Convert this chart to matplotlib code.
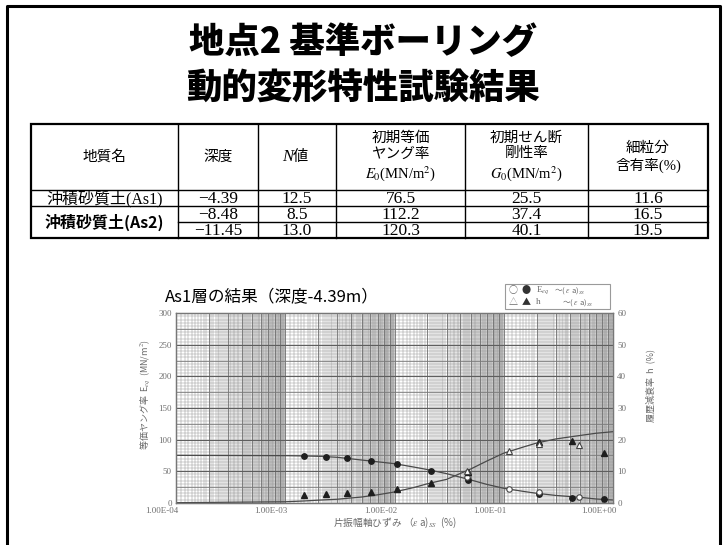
import numpy as np
import matplotlib
matplotlib.use("Agg")
import matplotlib.pyplot as plt
from matplotlib.patches import Rectangle
from matplotlib.ticker import NullLocator
from matplotlib.transforms import ScaledTranslation

plt.rcParams['font.family'] = ['Noto Sans CJK JP', 'DejaVu Sans']
plt.rcParams['mathtext.fontset'] = 'stix'

# ---- table values ----
geo_names = ["沖積砂質土(As1)", "沖積砂質土(As2)"]
depth = ["−4.39", "−8.48", "−11.45"]
n_value = [12.5, 8.5, 13.0]
e0 = [76.5, 112.2, 120.3]
g0 = [25.5, 37.4, 40.1]
fines = [11.6, 16.5, 19.5]
headers = ["地質名", "深度", None, "初期等価\nヤング率\n$E_0$(MN/m$^2$)",
           "初期せん断\n剛性率\n$G_0$(MN/m$^2$)", "細粒分\n含有率(%)"]

# ---- test results (As1, depth -4.39 m) ----
strain_fill = [1.49e-3, 2.36e-3, 3.65e-3, 6.05e-3, 1.06e-2, 2.14e-2, 4.74e-2, 0.21, 0.424, 0.832]
e_fill = [74.0, 72.9, 70.3, 65.6, 60.8, 50.7, 36.0, 13.8, 7.9, 5.9]
h_fill = [2.3, 2.8, 3.0, 3.4, 4.4, 6.1, 9.6, 19.2, 19.5, 15.6]
strain_open = [0.0458, 0.1117, 0.211, 0.491]
e_open = [40.2, 21.7, 16.5, 8.6]
h_open = [10.1, 16.4, 18.6, 18.2]
curve_strain = [1e-4, 1e-3, 1.5e-3, 2e-3, 3e-3, 5e-3, 7e-3, 1e-2, 1.5e-2, 2e-2, 3e-2,
                5e-2, 7e-2, 0.1, 0.15, 0.2, 0.3, 0.5, 0.7, 1.0]
e_curve = [75.0, 74.5, 74.0, 73.5, 71.9, 67.6, 64.8, 61.8, 56.5, 52.5, 46.0,
           36.0, 29.0, 22.8, 18.0, 14.9, 11.5, 8.5, 5.9, 4.3]
h_curve = [0.0, 0.3, 0.55, 0.8, 1.1, 1.8, 2.5, 3.4, 4.8, 6.0, 7.4,
           10.7, 13.2, 15.7, 17.6, 18.9, 20.2, 21.3, 22.0, 22.5]

W, H = 726, 545
fig = plt.figure(figsize=(W / 100, H / 100), dpi=100)
page = fig.add_axes([0, 0, 1, 1])
page.set_xlim(0, W)
page.set_ylim(H, 0)
page.axis("off")

# slide frame
page.plot([7, 7, 720, 720], [H + 5, 6, 6, H + 5], color="black", lw=2.2)

page.text(363, 42, "地点2 基準ボーリング", fontsize=25.5, weight="heavy",
          ha="center", va="center")
page.text(363, 89, "動的変形特性試験結果", fontsize=25.5, weight="heavy",
          ha="center", va="center")

# ---- table ----
col_x = [31, 178, 258, 336, 465, 588, 708]
row_y = [124, 190, 206, 222, 238]
serif = ["Liberation Serif", "Noto Sans CJK JP"]

page.add_patch(Rectangle((col_x[0], row_y[0]), col_x[-1] - col_x[0], row_y[-1] - row_y[0],
                         fill=False, lw=1.6, edgecolor="black"))
for x in col_x[1:-1]:
    page.plot([x, x], [row_y[0], row_y[-1]], color="black", lw=1.0)
page.plot([col_x[0], col_x[-1]], [row_y[1]] * 2, color="black", lw=1.0)
page.plot([col_x[0], col_x[-1]], [row_y[2]] * 2, color="black", lw=1.0)
page.plot([col_x[1], col_x[-1]], [row_y[3]] * 2, color="black", lw=1.0)

centers = [(a + b) / 2 for a, b in zip(col_x[:-1], col_x[1:])]
head_y = (row_y[0] + row_y[1]) / 2
for cx, txt in zip(centers, headers):
    if txt is None:
        continue
    page.text(cx, head_y, txt, ha="center", va="center",
              fontsize=10.5, family=serif, linespacing=1.25, ma="center")
page.text(centers[2] - 4, head_y, "N", ha="right", va="center", fontsize=12,
          family="Liberation Serif", style="italic")
page.text(centers[2] - 4, head_y, "値", ha="left", va="center", fontsize=11)

page.text(centers[0], row_y[2] - 3, geo_names[0], ha="center", va="baseline",
          fontsize=11.5, family=serif)
page.text(centers[0], (row_y[2] + row_y[4]) / 2, geo_names[1], ha="center", va="center",
          fontsize=11.5, weight="bold")
for i in range(3):
    base = row_y[i + 2] - 3
    vals = [depth[i], f"{n_value[i]:.1f}", f"{e0[i]:.1f}", f"{g0[i]:.1f}", f"{fines[i]:.1f}"]
    for cx, v in zip(centers[1:], vals):
        page.text(cx, base, v, ha="center", va="baseline", fontsize=12.5,
                  family="Liberation Serif")

# ---- chart ----
page.text(165, 298, "As1層の結果（深度-4.39m）", fontsize=12, ha="left", va="center")

ax = fig.add_axes([176 / W, 1 - 502.7 / H, 437 / W, 189.4 / H])
ax.set_xscale("log")
ax.set_xlim(1e-4, 1)
ax.set_ylim(0, 300)

# log paper
fine_x, mid_x = [], []
for d in range(-4, 0):
    for m in np.arange(1.0, 10.0, 0.1):
        (mid_x if abs(m - round(m)) < 1e-6 else fine_x).append(m * 10.0 ** d)
ax.vlines(fine_x, 0, 300, color="#8c8c8c", lw=0.35, zorder=0.5)
ax.vlines(mid_x, 0, 300, color="#6e6e6e", lw=0.6, zorder=0.6)
ax.hlines(np.arange(5, 300, 5), 1e-4, 1, color="#9a9a9a", lw=0.35, zorder=0.5)
ax.hlines(np.arange(25, 300, 25), 1e-4, 1, color="#7a7a7a", lw=0.55, zorder=0.6)
ax.hlines(np.arange(50, 300, 50), 1e-4, 1, color="#5e5e5e", lw=0.8, zorder=0.6)

ax.plot(curve_strain, e_curve, color="#4a4a4a", lw=0.9, zorder=2)
ax.plot(strain_fill, e_fill, "o", ms=3.9, color="#1e1e1e", zorder=3)
ax.plot(strain_open, e_open, "o", ms=3.9, mfc="white", mec="#444444", mew=0.8, zorder=3)

ax2 = ax.twinx()
ax2.set_ylim(0, 60)
ax2.plot(curve_strain, h_curve, color="#4a4a4a", lw=0.9, zorder=2)
ax2.plot(strain_fill, h_fill, "^", ms=4.4, color="#1e1e1e", zorder=3)
ax2.plot(strain_open, h_open, "^", ms=4.4, mfc="white", mec="#444444", mew=0.8, zorder=3)

for a in (ax, ax2):
    for s in a.spines.values():
        s.set_color("#777777")
        s.set_linewidth(0.9)
    a.tick_params(length=0, labelsize=6.5, labelcolor="#707070", pad=3)

ax.set_yticks(np.arange(0, 301, 50))
ax2.set_yticks(np.arange(0, 61, 10))
ax.set_xticks([1e-4, 1e-3, 1e-2, 1e-1, 1.0],
              ["1.00E-04", "1.00E-03", "1.00E-02", "1.00E-01", "1.00E+00"])
ax.xaxis.set_minor_locator(NullLocator())
for lab in ax.get_xticklabels():
    lab.set_transform(lab.get_transform() + ScaledTranslation(-0.14, 0, fig.dpi_scale_trans))
for lab in ax.get_xticklabels() + ax.get_yticklabels() + ax2.get_yticklabels():
    lab.set_family("Liberation Serif")

gray = "#6a6a6a"
page.text(145, 395, "等価ヤング率  E$_{eq}$  (MN/m$^2$)", rotation=90, fontsize=6.5,
          color=gray, ha="center", va="center")
page.text(650, 385, "履歴減衰率  h  (%)", rotation=90, fontsize=6.5,
          color=gray, ha="center", va="center")
page.text(395, 523, "片振幅軸ひずみ （$\\varepsilon$ a)$_{SS}$  (%)", fontsize=7,
          color=gray, ha="center", va="center")

# symbol key
page.add_patch(Rectangle((505, 284), 105, 25, fill=True, facecolor="white",
                         edgecolor="#9a9a9a", lw=0.8))
key_rows = [(290.5, "○", "●", "E$_{eq}$", 554), (302.5, "△", "▲", "h", 562)]
for ky, sym_open, sym_fill, name, tx in key_rows:
    page.text(513, ky, sym_open, fontsize=6.5, color=gray, ha="center", va="center")
    page.text(526, ky, sym_fill, fontsize=6.5, color="#333333", ha="center", va="center")
    page.text(536, ky, name, fontsize=6.5, color=gray, ha="left", va="center",
              family="Liberation Serif")
    page.text(tx, ky, "～( $\\varepsilon$ a)$_{SS}$", fontsize=5.5, color=gray,
              ha="left", va="center")

fig.savefig("out.png", dpi=100)
